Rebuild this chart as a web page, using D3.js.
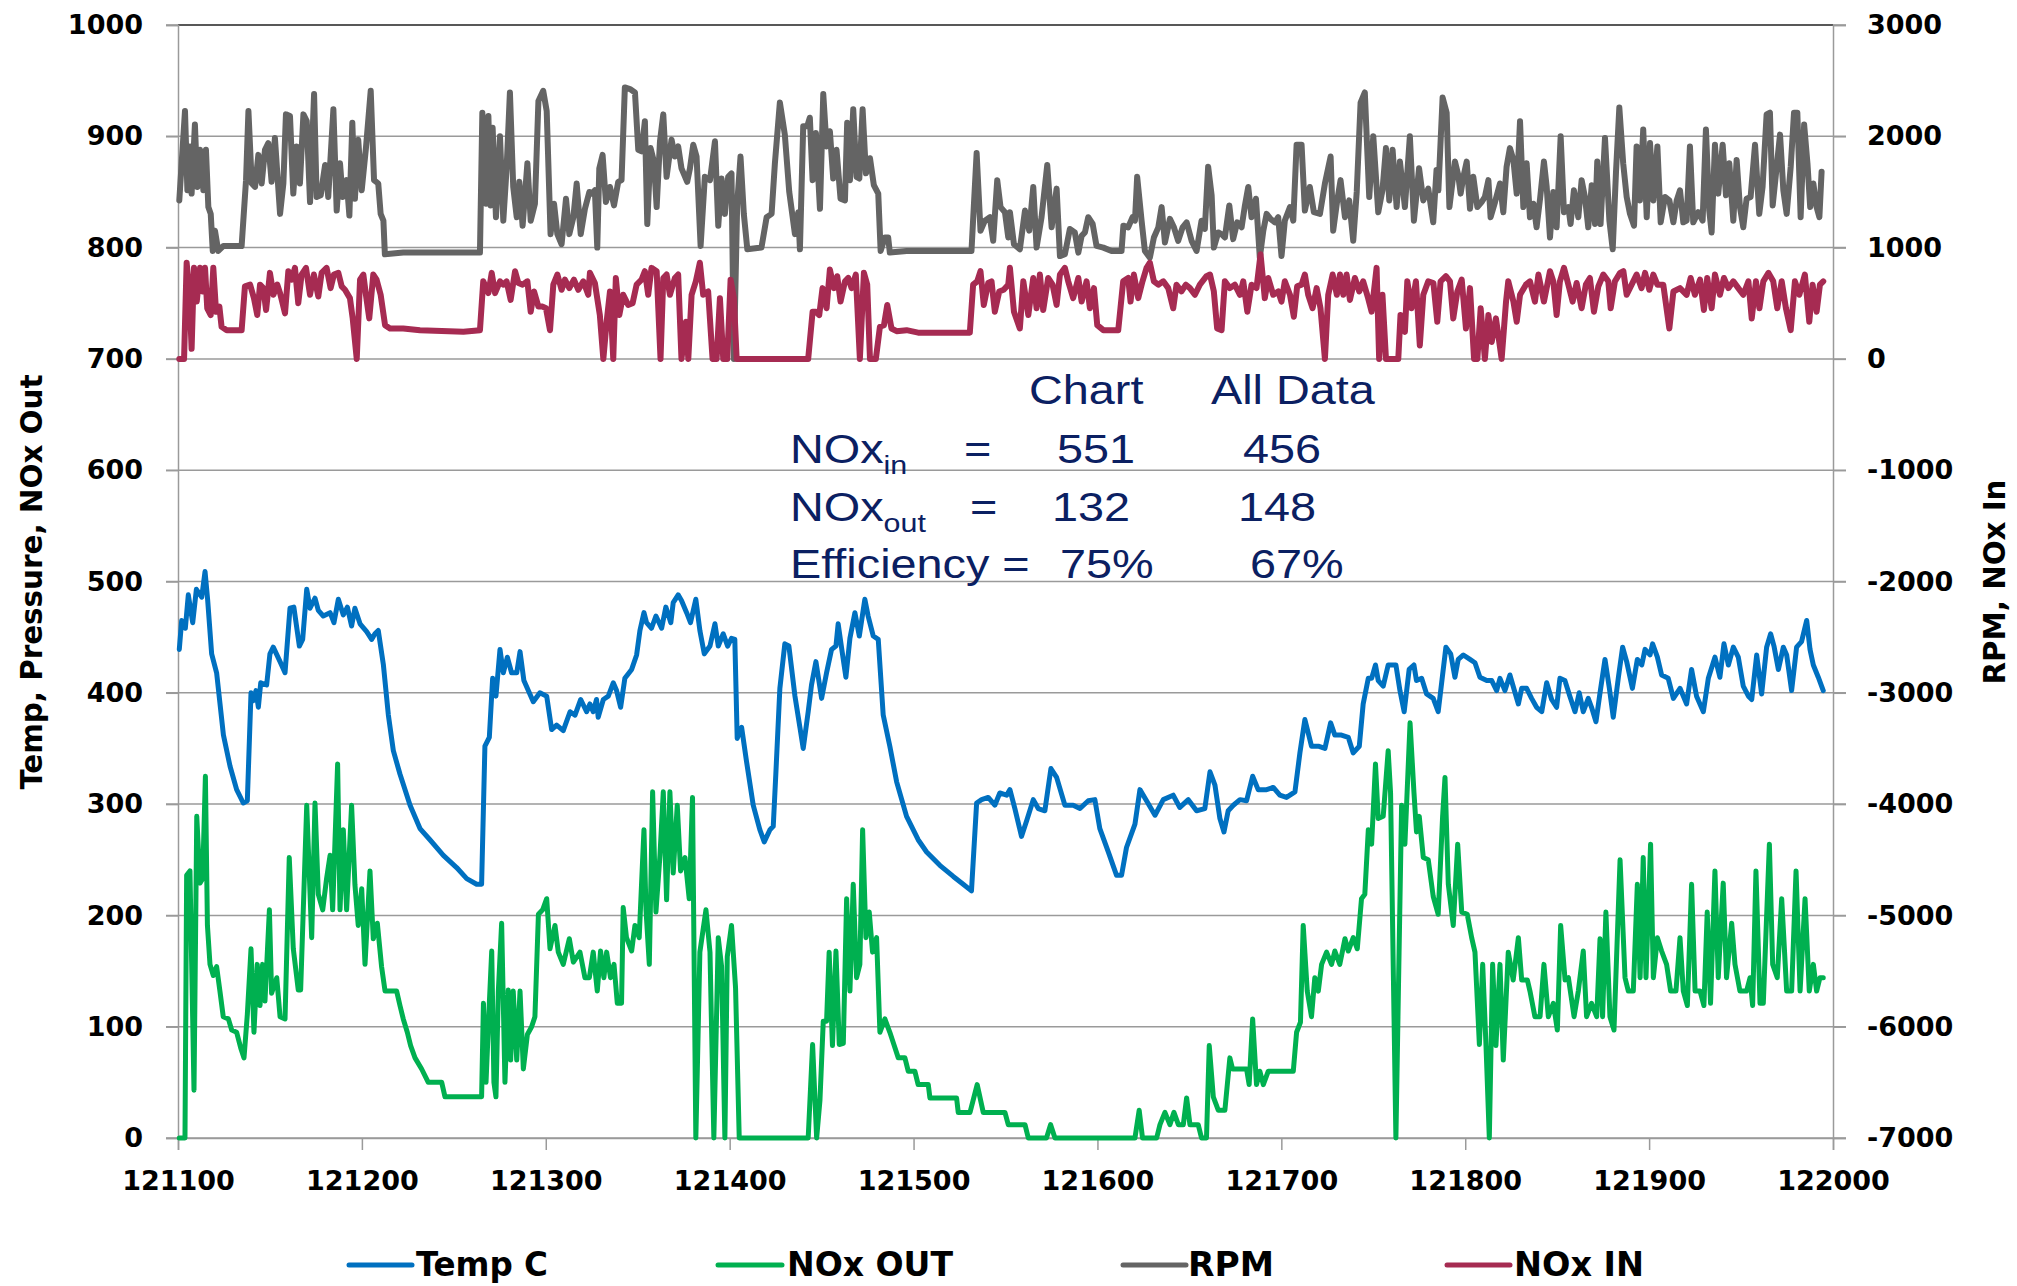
<!DOCTYPE html>
<html lang="en">
<head>
<meta charset="UTF-8">
<title>Temp, NOx and RPM trace</title>
<script src="https://d3js.org/d3.v7.min.js"></script>
<style>
  body { margin: 0; background: #fff; }
  svg { display: block; }
  .axis text { font-family: 'DejaVu Sans', sans-serif; font-weight: bold; font-size: 27px; fill: #000; }
  .axis path, .axis line { stroke: #9a9a9a; stroke-width: 1.5px; }
  .title { font-family: 'Liberation Sans Narrow', 'DejaVu Sans Condensed', sans-serif; font-weight: bold; fill: #000; }
  .note { font-family: 'Liberation Sans', Arial, sans-serif; fill: #0b2062; }
</style>
</head>
<body>
<svg id="chart" width="2017" height="1286"></svg>
<script>
// axis ticks
const xTicks = [121100, 121200, 121300, 121400, 121500, 121600, 121700, 121800, 121900, 122000];
const leftTicks = [0, 100, 200, 300, 400, 500, 600, 700, 800, 900, 1000];
const rightTicks = [-7000, -6000, -5000, -4000, -3000, -2000, -1000, 0, 1000, 2000, 3000];
const seriesNames = ["Temp C", "NOx OUT", "RPM", "NOx IN"];

// [time, value]
const tempC = [[121100.7,439],[121102,465],[121104,458],[121105.6,488],[121108,463],[121110,493],[121112.9,486],[121114.7,509],[121116.1,484],[121118.3,435],[121121,418],[121124.7,362],[121128.3,334],[121131.9,313],[121135.5,301],[121137.7,303],[121139.7,400],[121141,393],[121142.4,402],[121143.7,387],[121145,409],[121148.2,407],[121150,435],[121151.8,441],[121155.5,428],[121158.2,418],[121160.9,476],[121163,477],[121166,442],[121167.8,448],[121170,493],[121171.8,476],[121174.5,485],[121176.3,474],[121179,469],[121182.7,472],[121184.8,463],[121187.2,484],[121189.9,470],[121192.1,477],[121194.4,460],[121196.2,476],[121199,462],[121202.6,455],[121205.3,448],[121207.1,453],[121208.9,456],[121211.7,425],[121214.4,380],[121217.1,348],[121220.7,327],[121226.2,299],[121231.6,278],[121237,268],[121244.3,254],[121251.5,243],[121257,233],[121262.4,228],[121265.1,228],[121266.9,352],[121269.3,360],[121271.1,413],[121272.9,397],[121275.1,439],[121276.9,418],[121279.1,432],[121281.4,418],[121284.2,418],[121286,437],[121288.1,411],[121290.5,402],[121293.2,392],[121296.8,400],[121300.5,397],[121303.2,367],[121305.9,371],[121309.5,366],[121313.2,383],[121315.9,380],[121319,394],[121322.2,383],[121324,390],[121325.8,383],[121327.6,394],[121328.5,378],[121331.3,394],[121334,397],[121336.7,409],[121338.5,402],[121340.7,387],[121343,413],[121346.7,421],[121349.4,434],[121351.2,456],[121353.4,472],[121354.8,463],[121357.5,458],[121359.9,469],[121363,458],[121365.3,477],[121368,463],[121369.3,481],[121372,488],[121373.8,483],[121376.6,472],[121378.7,463],[121381.6,484],[121383.8,456],[121386.2,435],[121389.3,442],[121392,462],[121393.8,442],[121396.5,453],[121398.9,442],[121401,449],[121402.8,448],[121404.1,359],[121406.5,369],[121409.2,338],[121412.8,299],[121416.4,277],[121418.8,266],[121421.9,277],[121423.7,280],[121425.1,327],[121427.3,404],[121430,444],[121432.2,442],[121435.5,397],[121438.2,369],[121440,350],[121442.7,383],[121444.5,407],[121446.9,428],[121450,395],[121452.7,418],[121455.4,439],[121457.8,442],[121459,462],[121460.8,441],[121463.2,414],[121465.4,449],[121468.1,472],[121470.5,451],[121473.5,484],[121475.3,469],[121478.1,451],[121480.8,448],[121483.5,380],[121487.1,352],[121490.8,320],[121496.2,289],[121502.5,268],[121507.1,257],[121514.3,245],[121521.6,235],[121527,228],[121531.5,222],[121534.3,301],[121537,304],[121540.6,306],[121544.2,299],[121546.9,310],[121550.6,308],[121552.4,313],[121555.1,296],[121558.7,271],[121561.5,285],[121565.1,304],[121567.8,296],[121571.4,294],[121574.7,332],[121577.8,324],[121582.3,299],[121586.8,299],[121590.5,296],[121595,303],[121598.6,304],[121601.3,278],[121605.9,257],[121610.4,236],[121613.1,236],[121615.8,261],[121620.4,282],[121623.1,313],[121626.7,303],[121631.3,290],[121635.8,304],[121641.2,308],[121644.8,297],[121649.4,304],[121653.9,294],[121658.4,296],[121661.2,329],[121663.9,317],[121666.6,287],[121668.8,275],[121671.1,294],[121673.9,299],[121677.5,304],[121681.1,303],[121684.4,325],[121687.4,313],[121692,313],[121695.6,315],[121699.2,308],[121702.8,306],[121707.4,311],[121710.1,346],[121712.8,376],[121716.4,352],[121720.1,352],[121723.7,350],[121726.8,373],[121729.1,362],[121732.7,362],[121736.4,360],[121739.1,346],[121742.4,352],[121744.5,390],[121747.3,413],[121749.1,413],[121751.2,425],[121752.7,411],[121755.4,406],[121758.1,425],[121762.3,425],[121764.5,402],[121766.8,383],[121769.5,421],[121772.1,425],[121773.5,411],[121776.3,413],[121779,399],[121782.6,395],[121785.3,383],[121789.5,441],[121792.1,435],[121794.4,414],[121796.2,430],[121799,434],[121802.6,430],[121805.3,427],[121808,414],[121811.7,411],[121814.4,411],[121817.1,402],[121818.9,413],[121821.6,402],[121824.3,416],[121827.1,400],[121828.9,390],[121830.7,404],[121833.4,404],[121836.1,395],[121838.8,387],[121841.6,383],[121844.3,409],[121847,394],[121849.7,387],[121851.5,413],[121854.2,411],[121856.9,397],[121859.7,383],[121862,400],[121864.2,383],[121866.9,395],[121868.7,387],[121871.1,374],[121873.3,400],[121876,430],[121878.4,404],[121880.5,378],[121883.3,414],[121885.6,441],[121887.8,428],[121890.9,404],[121893.6,430],[121896,425],[121897.8,439],[121900.5,434],[121901.9,444],[121904.5,432],[121906.8,416],[121910.4,413],[121913.2,395],[121916.8,404],[121920.4,390],[121923.1,421],[121925.8,397],[121929.5,383],[121932.2,413],[121935.8,432],[121938.5,414],[121940.7,444],[121943.1,425],[121945.8,441],[121948.5,432],[121951.2,406],[121954,397],[121955.8,394],[121958.5,434],[121961.2,399],[121963.9,441],[121966.1,453],[121967.9,442],[121970.3,421],[121973,441],[121974.8,434],[121977.5,402],[121980.2,441],[121982.9,446],[121985.7,465],[121987.5,439],[121989.3,425],[121992,414],[121994.7,402]];

const noxOut = [[121100.7,0],[121103.8,0],[121104.7,236],[121106.5,240],[121108.7,43],[121110.2,289],[121112,229],[121113.4,233],[121114.9,325],[121116,191],[121117.4,156],[121119.2,146],[121121,154],[121122.8,132],[121124.6,109],[121127.4,107],[121129.2,97],[121131.9,95],[121134.1,81],[121135.9,72],[121137.7,111],[121139.7,170],[121141.3,95],[121143.1,156],[121144.6,119],[121146,156],[121147.3,123],[121149.7,205],[121150.9,130],[121153.7,144],[121155.5,109],[121158.2,107],[121160.5,252],[121162.7,170],[121165.4,133],[121166.7,133],[121170,299],[121172.7,180],[121174.5,301],[121176.3,219],[121178.7,205],[121180.8,233],[121182.7,254],[121184.1,205],[121186.8,336],[121188.1,205],[121189.9,277],[121191.7,205],[121194.4,299],[121196.2,228],[121198,191],[121199.9,224],[121201.7,156],[121204.4,240],[121206.2,179],[121208.4,193],[121210.7,154],[121212.6,132],[121218.9,132],[121220.7,119],[121222.5,107],[121224.7,95],[121226.5,83],[121228.9,72],[121232.5,62],[121236.1,50],[121243.4,50],[121245.2,37],[121265.1,37],[121266.1,121],[121267.5,50],[121269.3,121],[121270.6,168],[121271.8,50],[121272.9,37],[121274.2,132],[121276,193],[121277.8,50],[121279.6,133],[121280.9,70],[121282.3,132],[121284.2,70],[121286,132],[121287.8,62],[121290,93],[121292.3,100],[121294.1,109],[121296,201],[121298.3,205],[121300.5,215],[121302.3,170],[121305,191],[121306.8,167],[121309.5,156],[121312.8,179],[121315,158],[121318.6,167],[121321.3,144],[121323.7,144],[121325.8,167],[121328,132],[121329.8,168],[121331.6,144],[121333.1,167],[121335.2,144],[121337.1,156],[121338.9,121],[121341.2,121],[121342.1,207],[121343.9,180],[121346.7,168],[121348.5,191],[121350.8,180],[121352.1,229],[121353.4,277],[121354.5,205],[121356.3,156],[121358.1,311],[121359.9,203],[121362.1,254],[121363.9,311],[121365.7,214],[121367.5,311],[121369.3,238],[121371.5,299],[121373.3,240],[121375.7,252],[121378,215],[121379.8,306],[121381.6,0],[121383.8,167],[121387.1,205],[121389.3,167],[121391.4,0],[121393.8,180],[121395.6,154],[121397.4,0],[121398.7,163],[121401,191],[121403.2,135],[121405.2,0],[121442.7,0],[121445.1,84],[121447.3,0],[121449.1,34],[121450.9,105],[121452.7,105],[121454.1,167],[121455.9,83],[121457.8,168],[121459.6,84],[121461.8,85],[121463.6,215],[121465.4,132],[121467.2,228],[121469,144],[121470.8,156],[121472.3,277],[121474.1,180],[121475.9,203],[121477.7,167],[121479.9,180],[121481.7,95],[121484.4,107],[121487.1,95],[121489.3,84],[121491.7,72],[121495.3,72],[121497.1,60],[121500.7,60],[121502.5,48],[121508,48],[121508.9,36],[121523.4,36],[121524.3,23],[121530.7,23],[121534.6,48],[121537.9,23],[121549.7,23],[121551.5,12],[121560.6,12],[121562.4,0],[121572.3,0],[121574.5,12],[121576.9,0],[121620.4,0],[121622.7,25],[121624.5,0],[121632.2,0],[121634,12],[121636.7,23],[121639.4,12],[121641.6,23],[121644,12],[121646.7,12],[121648.5,36],[121650.3,12],[121654.8,12],[121656.6,0],[121659.3,0],[121660.8,83],[121663,37],[121665.7,25],[121669.3,25],[121672,72],[121673.5,62],[121681.1,62],[121682.5,48],[121684.4,107],[121686.5,48],[121688.3,60],[121690.2,48],[121692.9,60],[121706.5,60],[121708.3,95],[121710.4,104],[121711.9,191],[121714.1,132],[121716.4,109],[121718.2,144],[121720.1,132],[121721.9,156],[121724.6,167],[121727.3,156],[121729.1,168],[121731.8,156],[121734.6,179],[121736.4,168],[121739.1,180],[121741.3,170],[121743.6,215],[121745.4,219],[121747.3,277],[121749.1,264],[121751.2,336],[121752.7,287],[121755.4,289],[121758.1,348],[121759.4,310],[121762.3,0],[121765.4,299],[121767.2,264],[121770,373],[121772.1,311],[121773.5,275],[121775,289],[121777.2,252],[121779.9,250],[121782.6,217],[121785.3,201],[121787.7,289],[121789,324],[121790.8,228],[121793.5,191],[121795.9,264],[121798.1,203],[121801.1,201],[121803.5,180],[121805.3,167],[121807.7,84],[121809.5,156],[121811.3,83],[121813.1,0],[121814.9,156],[121816.7,83],[121818.9,156],[121820.7,70],[121823.4,167],[121826.1,142],[121828.9,180],[121830.7,142],[121833.8,142],[121835.2,132],[121837.9,109],[121840.7,109],[121842.8,156],[121845.2,109],[121847.9,121],[121850.1,97],[121851.9,191],[121854.3,142],[121856.1,144],[121859.2,109],[121861.5,132],[121864.2,168],[121866,109],[121868.7,121],[121871.5,109],[121873.3,179],[121874.7,109],[121876.5,203],[121878.7,109],[121880.9,97],[121884.2,250],[121886.9,144],[121888.7,132],[121891.4,132],[121893.6,228],[121895.1,144],[121896.8,252],[121898.3,144],[121900.8,264],[121902.3,144],[121904.5,180],[121906.8,168],[121909.5,156],[121911.7,132],[121914.6,132],[121916.8,180],[121918.6,132],[121920.8,119],[121923.1,228],[121925,132],[121927.7,132],[121929.8,119],[121931.6,203],[121933.4,121],[121935.8,240],[121937.6,144],[121940.3,229],[121942.1,144],[121944.9,193],[121946.7,156],[121949.4,132],[121953,132],[121954.9,144],[121956.3,119],[121958.1,240],[121960.3,121],[121962.1,121],[121965.4,264],[121967.2,156],[121969.7,144],[121972.1,215],[121974.8,132],[121977.5,132],[121979.9,240],[121982.1,132],[121984.8,215],[121987.1,132],[121989.3,156],[121991.1,132],[121992.9,144],[121994.7,144]];

const rpm = [[121100.7,1424],[121103.8,2227],[121105.1,1515],[121106.5,1909],[121107.4,1485],[121109.2,2106],[121110.5,1545],[121112,1879],[121113.8,1515],[121115.2,1879],[121116.5,1364],[121117.8,1303],[121118.9,970],[121120.1,1152],[121121.9,970],[121124.7,1015],[121134.6,1015],[121137,1606],[121138.3,2227],[121140.1,1576],[121141.9,1545],[121143.7,1833],[121145.5,1576],[121147.3,1879],[121149.1,1939],[121150.9,1591],[121152.7,1985],[121155.5,1303],[121157.3,1576],[121158.7,2197],[121160.9,2182],[121162.7,1485],[121164.5,1909],[121166.3,1576],[121168.2,2197],[121170,2136],[121171.8,1409],[121174,2379],[121175.4,1455],[121177.6,1470],[121180,1742],[121181.7,1455],[121184.5,2242],[121186.3,1333],[121188.1,1758],[121189.5,1455],[121191.7,1606],[121193.2,1288],[121194.8,2121],[121196.2,1439],[121198,1970],[121199.9,1515],[121202.2,1894],[121204.8,2409],[121206.6,1606],[121208.9,1576],[121210.2,1303],[121211.7,1242],[121212.5,940],[121222.5,955],[121264.2,955],[121265.5,2212],[121267.5,1394],[121268.8,2182],[121270,1379],[121271.1,2076],[121272.9,1273],[121275.1,2000],[121276.9,1242],[121278.7,1712],[121280.5,2394],[121282.3,1545],[121284.2,1273],[121285.6,1591],[121287.4,1197],[121290,1758],[121291.8,1242],[121294.1,1394],[121296,2318],[121298.6,2409],[121300.5,2227],[121302.6,1121],[121304.5,1394],[121306.3,1121],[121308.6,1030],[121311,1439],[121312.8,1121],[121315,1273],[121316.8,1576],[121319,1121],[121321.3,1349],[121323.7,1500],[121324.9,1485],[121326.7,1515],[121328,1000],[121329.1,1712],[121330.9,1833],[121332.7,1409],[121334.9,1545],[121337.1,1379],[121339.4,1591],[121341.2,1606],[121343,2439],[121345.8,2424],[121348.5,2394],[121350.3,1879],[121352.1,1864],[121353.9,2136],[121355.2,1212],[121357,1894],[121358.8,1773],[121360.3,1364],[121362.1,1955],[121363.9,2197],[121365.7,1636],[121368.4,1970],[121370.2,1818],[121372,1909],[121373.8,1712],[121376.9,1591],[121378.4,1712],[121380.2,1924],[121382,1818],[121384.2,1015],[121386.5,1636],[121389.3,1606],[121392,1955],[121393.8,1197],[121395.6,1621],[121397.4,1303],[121399.2,1636],[121401,1667],[121402.3,0],[121404.1,1394],[121405.9,1818],[121407.7,1303],[121409.6,985],[121417.3,1000],[121420.1,1273],[121422.8,1303],[121424.6,1758],[121427.3,2303],[121430,2015],[121432.4,1500],[121435.5,1121],[121437.3,1318],[121438.2,985],[121440,2091],[121442.2,2091],[121443.6,2167],[121445.1,1606],[121446.9,2030],[121449.1,1349],[121450.9,2379],[121452.7,1909],[121454.5,2045],[121456.3,1621],[121458.1,1879],[121460.3,1439],[121462.7,1424],[121463.9,2121],[121465.4,1606],[121467.2,2242],[121469,1636],[121470.5,1621],[121472.3,2242],[121474.1,1667],[121476.3,1803],[121478.4,1561],[121480.8,1485],[121482.1,970],[121484.4,1091],[121486.2,1091],[121487.1,955],[121496.2,970],[121531.5,970],[121534.3,1849],[121536.4,1152],[121538.8,1242],[121541.5,1273],[121543.3,1061],[121545.5,1606],[121547.3,1364],[121549.7,1318],[121551.5,1091],[121552.4,1318],[121554.6,1030],[121557.8,985],[121560.6,1333],[121562.9,1152],[121565.1,1545],[121566.9,1000],[121569.6,1273],[121572.7,1742],[121575.1,1182],[121577.8,1530],[121579.6,924],[121582.3,940],[121585,1167],[121587.7,1136],[121589.6,955],[121591.4,1106],[121593.2,1136],[121595,1273],[121597.4,1212],[121599.5,1015],[121603.2,1000],[121607.7,970],[121613.1,970],[121614.1,1197],[121616.7,1182],[121619.1,1273],[121620.4,1242],[121621.6,1636],[121624,1242],[121625.8,970],[121628.5,909],[121630.7,1091],[121633.1,1182],[121634.9,1364],[121636.7,1046],[121639.4,1258],[121641.6,1182],[121643.9,1061],[121646.3,1182],[121648.5,1227],[121651.2,1061],[121653.9,970],[121656.6,1242],[121658.4,1167],[121660.2,1727],[121662.1,1470],[121663.3,1000],[121665.7,1136],[121667.5,1121],[121669.3,1091],[121671.7,1379],[121673.8,1076],[121676,1227],[121678.4,1182],[121680.2,1379],[121682,1545],[121683.8,1273],[121686.2,1439],[121688.3,909],[121690.2,1152],[121692,1303],[121694.1,1258],[121696.5,1227],[121698.3,1273],[121700.1,924],[121701.9,1242],[121704.7,1364],[121706.5,1242],[121708.3,1924],[121711,1924],[121712.8,1333],[121715.5,1545],[121717.7,1318],[121721,1303],[121723.7,1576],[121726.8,1818],[121728.2,1152],[121730.4,1424],[121732.2,1606],[121734.6,1273],[121736.9,1424],[121739.1,1061],[121741,1500],[121743.1,2303],[121745.4,2394],[121747.8,1455],[121750,2000],[121752.7,1318],[121755,1515],[121756.9,1894],[121758.7,1424],[121760.5,1879],[121762.7,1364],[121764.5,1773],[121767.2,1364],[121769.9,2000],[121772.1,1242],[121774.9,1712],[121777.2,1424],[121779.9,1530],[121782.6,1227],[121784.4,1697],[121785.4,1515],[121787.7,2348],[121789.9,2212],[121791.4,1364],[121793.2,1606],[121794.4,1773],[121796.2,1652],[121797.5,1485],[121799,1636],[121800.8,1773],[121802.6,1349],[121804.4,1636],[121806.6,1364],[121808.9,1409],[121810.7,1455],[121812.6,1606],[121813.8,1273],[121816.2,1409],[121818.9,1576],[121820.7,1318],[121822.5,1727],[121824.3,1894],[121826.2,1788],[121828,1485],[121829.8,2136],[121831.6,1364],[121833.4,1758],[121835.2,1273],[121837.1,1394],[121838.8,1182],[121840.7,1439],[121842.8,1773],[121844.3,1545],[121846.1,1091],[121847.9,1500],[121849.7,1182],[121851.9,2000],[121853.7,1318],[121856.1,1364],[121857.3,1212],[121859.1,1515],[121861.5,1273],[121863.3,1606],[121865.1,1455],[121866.9,1182],[121868.8,1561],[121870.6,1212],[121871.8,1773],[121873.6,1212],[121876,1985],[121878.4,1242],[121880.2,985],[121882,1682],[121883.8,2258],[121885.9,1758],[121887.8,1455],[121889.6,1303],[121891.8,1197],[121893.2,1909],[121895,1424],[121896.8,2061],[121898.7,1273],[121900.5,1939],[121902.3,1424],[121904.5,1909],[121906.3,1227],[121908.6,1455],[121911,1424],[121913.2,1227],[121915,1424],[121916.8,1515],[121918.6,1227],[121920.4,1242],[121922.2,1909],[121924,1227],[121926.7,1318],[121929.1,1242],[121930.9,2061],[121932.7,1333],[121934,1136],[121935.8,1924],[121937.6,1485],[121940,1924],[121941.8,1470],[121943.6,1758],[121945.8,1242],[121947.6,1788],[121949.4,1364],[121951.2,1182],[121953,1439],[121955.2,1455],[121957.6,1924],[121959.9,1303],[121961.7,1545],[121963.9,2197],[121965.7,2212],[121967.2,1379],[121969,1667],[121971.2,2015],[121973,1515],[121974.8,1303],[121977,1727],[121978.8,2212],[121980.6,2212],[121982.4,1273],[121984.3,2106],[121986.1,1758],[121987.6,1364],[121989.3,1576],[121991.1,1364],[121992.6,1273],[121993.8,1682]];

const noxIn = [[121100.7,0],[121103.3,0],[121104.7,864],[121106.2,606],[121107.4,91],[121108.7,818],[121110.2,515],[121112,818],[121113.4,606],[121114.7,818],[121115.9,455],[121117.8,394],[121119.2,818],[121120.7,424],[121122.5,470],[121123.7,288],[121126.5,258],[121134.6,258],[121136.4,652],[121139.2,667],[121141.3,546],[121143.1,394],[121144.6,667],[121146.4,636],[121147.9,439],[121150,773],[121151.9,576],[121154,667],[121155.5,591],[121158.2,409],[121160,788],[121161.8,712],[121163.6,818],[121165.4,500],[121167.2,758],[121169.6,818],[121171.8,576],[121173.9,758],[121176.3,561],[121178.1,773],[121180.8,818],[121183,636],[121184.8,758],[121187.2,773],[121189,652],[121190.8,621],[121193.5,546],[121195,364],[121197.2,0],[121199,712],[121200.8,758],[121202.2,576],[121204,364],[121206.2,758],[121208,712],[121210.2,576],[121212.6,303],[121215.3,273],[121222.5,273],[121231.6,258],[121255.2,243],[121264.2,258],[121266,697],[121268.8,591],[121270.6,773],[121272.4,591],[121275.1,697],[121276.9,667],[121278.7,697],[121280.9,530],[121283.3,788],[121285.1,682],[121287.4,667],[121290,697],[121291.8,424],[121293.6,606],[121296,470],[121298.3,470],[121300.1,455],[121302.3,258],[121304.1,667],[121306.3,758],[121308.6,621],[121310.4,712],[121312.8,636],[121315.3,712],[121317.7,621],[121320.4,697],[121323.1,576],[121324,773],[121326.7,682],[121329.4,394],[121331.3,0],[121333.1,334],[121334.9,606],[121336.7,0],[121338.1,727],[121340,394],[121342.1,576],[121344.8,485],[121347.2,500],[121349.4,667],[121352.1,712],[121353.9,788],[121355.7,576],[121357.5,818],[121360.3,788],[121362.4,0],[121363.9,727],[121365.7,758],[121367.5,576],[121370.2,727],[121372,758],[121373.8,0],[121376.2,334],[121377.5,0],[121379.3,576],[121381.6,697],[121383.8,864],[121385.6,576],[121388.3,606],[121390.7,0],[121392.9,0],[121394.7,546],[121396.5,0],[121398.7,0],[121400.5,712],[121402.3,546],[121403.8,0],[121442.7,0],[121445.1,424],[121446.9,424],[121448.7,394],[121450.5,636],[121452.7,455],[121454.5,803],[121456.7,636],[121458.5,743],[121460.3,515],[121462.7,697],[121464.5,727],[121466.3,636],[121468.6,758],[121470.8,0],[121473,773],[121474.8,667],[121476.3,0],[121479.5,0],[121481.7,288],[121483.9,303],[121485.7,485],[121488,273],[121490.8,249],[121496.2,258],[121502.5,236],[121530.6,236],[121532.4,667],[121534.6,697],[121536.4,788],[121538.2,485],[121540.6,682],[121542.4,697],[121544.2,424],[121546.6,606],[121549,621],[121551.5,667],[121552.4,818],[121554.6,424],[121557.8,273],[121559.7,697],[121562.4,394],[121565.1,727],[121566.9,455],[121568.7,758],[121570.5,439],[121573.2,727],[121575.6,667],[121577.8,485],[121579.6,758],[121582.3,818],[121584.1,697],[121586.8,546],[121589.6,727],[121591.4,515],[121594.1,697],[121595.9,455],[121598.1,636],[121599.9,303],[121603.2,258],[121611.3,258],[121614,697],[121616.7,727],[121618,515],[121619.8,758],[121622.2,546],[121624.5,697],[121626.7,818],[121628.5,864],[121630.7,697],[121633.1,667],[121635.8,697],[121638.5,636],[121641.2,455],[121643,667],[121645.7,606],[121648.1,667],[121650.3,636],[121653,576],[121655.7,667],[121659.3,743],[121661.2,758],[121663.3,606],[121665.1,273],[121667.5,258],[121669.3,697],[121672,636],[121674.7,667],[121677.5,576],[121679.3,697],[121681.5,424],[121683.8,667],[121686.5,636],[121688.7,940],[121691,546],[121692.9,727],[121695.6,576],[121698.3,606],[121700.1,515],[121701.9,697],[121704.7,576],[121706.8,379],[121708.6,652],[121711,667],[121712.8,758],[121714.6,576],[121717,455],[121719.2,636],[121721.3,455],[121723.7,0],[121725.5,576],[121727.9,758],[121730.2,576],[121731.9,758],[121733.7,576],[121735.5,758],[121737.3,530],[121740,727],[121742.4,606],[121744.5,697],[121747.2,546],[121749.1,424],[121751.8,818],[121753.2,0],[121755,576],[121756.9,0],[121763.6,0],[121764.8,394],[121767.2,243],[121768.5,697],[121770.8,455],[121773.2,697],[121775.3,121],[121777.2,576],[121779.9,697],[121782.7,682],[121784.8,334],[121786.6,697],[121789.5,743],[121791.7,697],[121793.5,364],[121795.7,606],[121798.1,712],[121800.4,273],[121802.6,636],[121804.8,0],[121806.6,0],[121808.4,455],[121810.7,0],[121812.6,394],[121814.4,152],[121816.7,364],[121819.8,0],[121822.2,515],[121823.4,697],[121826.2,515],[121828,334],[121829.8,576],[121833,667],[121835.2,697],[121837.9,515],[121839.8,758],[121842.8,515],[121846.1,788],[121847.9,697],[121849.7,394],[121851.5,697],[121853.7,818],[121856.1,667],[121858.4,515],[121860.6,682],[121863.3,455],[121865.6,667],[121867.8,727],[121870,424],[121872.4,652],[121875.1,758],[121877.8,697],[121879.1,455],[121881.4,697],[121884.2,773],[121886,788],[121887.8,576],[121890.5,667],[121893.2,758],[121895.9,636],[121897.8,773],[121900.1,621],[121902.3,758],[121904.5,667],[121907.7,667],[121911,273],[121913.2,606],[121916.8,636],[121920.4,576],[121922.6,727],[121924.9,576],[121927.7,712],[121929.8,439],[121931.6,727],[121934,455],[121935.8,758],[121938.5,576],[121940.7,727],[121943.1,636],[121945.8,697],[121948.5,636],[121951.2,576],[121954,697],[121955.8,364],[121958.1,697],[121960,455],[121962.1,697],[121964.9,773],[121967.5,697],[121969.7,455],[121972.1,697],[121974.4,455],[121977,258],[121979.3,697],[121981.7,576],[121984.7,758],[121987.1,334],[121988.9,667],[121991.1,424],[121992.9,667],[121994.7,697]];

const svg = d3.select("#chart");
const plotL = 178, plotR = 1833, plotT = 25, plotB = 1138;

const x = d3.scaleLinear().domain([121100, 122000]).range([plotL, plotR]);
const yL = d3.scaleLinear().domain([0, 1000]).range([plotB, plotT]);
const yR = d3.scaleLinear().domain([-7000, 3000]).range([plotB, plotT]);

// horizontal grid, running out past both axes like tick marks
svg.append("g").selectAll("line")
  .data(leftTicks)
  .join("line")
  .attr("x1", plotL - 12).attr("x2", plotR + 13)
  .attr("y1", d => yL(d)).attr("y2", d => yL(d))
  .attr("stroke", "#9a9a9a").attr("stroke-width", 1.5);

svg.append("line")
  .attr("x1", plotL).attr("x2", plotR).attr("y1", yL(1000)).attr("y2", yL(1000))
  .attr("stroke", "#3a3a3a").attr("stroke-width", 1.5);

// axes
svg.append("g").attr("class", "axis")
  .attr("transform", `translate(${plotL},0)`)
  .call(d3.axisLeft(yL).tickValues(leftTicks).tickSize(12).tickPadding(23).tickFormat(d3.format("d")));

svg.append("g").attr("class", "axis")
  .attr("transform", `translate(${plotR},0)`)
  .call(d3.axisRight(yR).tickValues(rightTicks).tickSize(13).tickPadding(21).tickFormat(d3.format("d")));

svg.append("g").attr("class", "axis")
  .attr("transform", `translate(0,${plotB})`)
  .call(d3.axisBottom(x).tickValues(xTicks).tickSize(12).tickPadding(21).tickFormat(d3.format("d")));

svg.selectAll(".axis .domain").attr("stroke", "#9a9a9a").attr("stroke-width", 2);
// d3.format("d") uses a unicode minus; the source shows a plain hyphen
svg.selectAll(".axis text").text(function () { return this.textContent.replace("\u2212", "-"); });

// series
const lineL = d3.line().x(d => x(d[0])).y(d => yL(d[1]));
const lineR = d3.line().x(d => x(d[0])).y(d => yR(d[1]));

const series = [
  { data: tempC, line: lineL, color: "#0070c0", width: 5 },
  { data: noxOut, line: lineL, color: "#00b050", width: 5 },
  { data: rpm, line: lineR, color: "#646464", width: 6 },
  { data: noxIn, line: lineR, color: "#a62b52", width: 6 }
];

svg.append("g").selectAll("path")
  .data(series)
  .join("path")
  .attr("d", s => s.line(s.data))
  .attr("fill", "none")
  .attr("stroke", s => s.color)
  .attr("stroke-width", s => s.width)
  .attr("stroke-linejoin", "round")
  .attr("stroke-linecap", "round");

// axis titles
svg.append("text").attr("class", "title")
  .attr("transform", "translate(31,582) rotate(-90)")
  .attr("text-anchor", "middle").attr("dy", "0.35em")
  .attr("font-size", 31)
  .attr("textLength", 415).attr("lengthAdjust", "spacingAndGlyphs")
  .text("Temp, Pressure, NOx Out");

svg.append("text").attr("class", "title")
  .attr("transform", "translate(1994,582) rotate(-90)")
  .attr("text-anchor", "middle").attr("dy", "0.35em")
  .attr("font-size", 31)
  .attr("textLength", 205).attr("lengthAdjust", "spacingAndGlyphs")
  .text("RPM, NOx In");

// summary block
function note(px, py, str, sub) {
  const t = svg.append("text").attr("class", "note")
    .attr("transform", `translate(${px},${py}) scale(1.17,1)`)
    .attr("font-size", 40).text(str);
  if (sub) t.append("tspan").attr("font-size", 26).attr("dy", 11).text(sub);
}
note(1029, 404, "Chart"); note(1211, 404, "All Data");
note(790, 463, "NOx", "in"); note(964, 463, "="); note(1057, 463, "551"); note(1243, 463, "456");
note(790, 521, "NOx", "out"); note(970, 521, "="); note(1052, 521, "132"); note(1238, 521, "148");
note(790, 578, "Efficiency ="); note(1060, 578, "75%"); note(1250, 578, "67%");

// legend
const legendPos = [
  { x1: 349, x2: 412, tx: 416, tw: 132 },
  { x1: 718, x2: 782, tx: 787, tw: 166 },
  { x1: 1123, x2: 1186, tx: 1188, tw: 86 },
  { x1: 1447, x2: 1510, tx: 1514, tw: 130 }
];
const lg = svg.append("g").selectAll("g")
  .data(series)
  .join("g");
lg.append("line")
  .attr("x1", (s, i) => legendPos[i].x1).attr("x2", (s, i) => legendPos[i].x2)
  .attr("y1", 1265).attr("y2", 1265)
  .attr("stroke", s => s.color).attr("stroke-width", 5).attr("stroke-linecap", "round");
lg.append("text").attr("class", "title")
  .attr("x", (s, i) => legendPos[i].tx).attr("y", 1276)
  .attr("font-size", 33)
  .attr("textLength", (s, i) => legendPos[i].tw).attr("lengthAdjust", "spacingAndGlyphs")
  .text((s, i) => seriesNames[i]);
</script>
</body>
</html>
